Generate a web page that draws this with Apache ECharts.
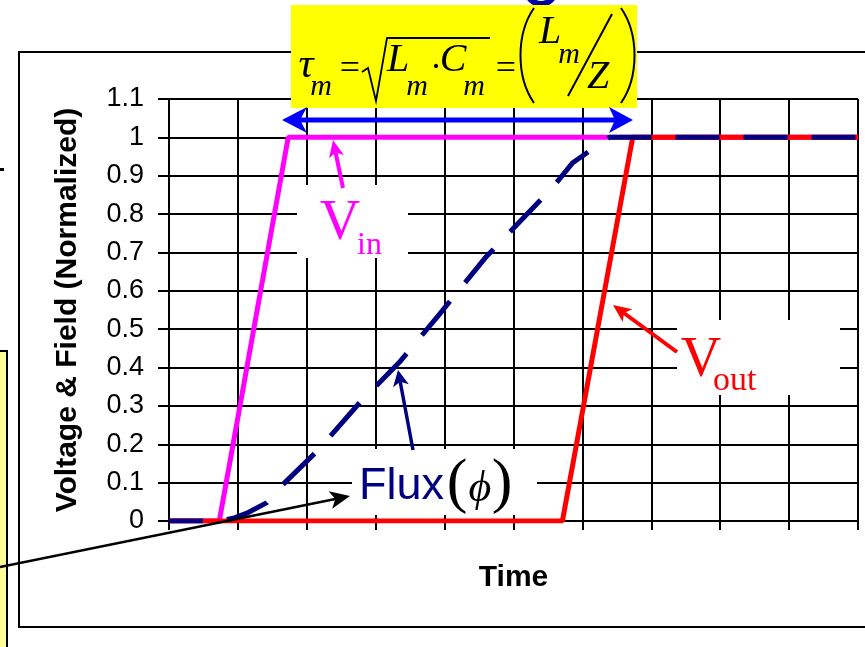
<!DOCTYPE html>
<html>
<head>
<meta charset="utf-8">
<script src="https://cdn.jsdelivr.net/npm/echarts@6/dist/echarts.min.js"></script>
<style>
  html, body { margin: 0; padding: 0; background: #fff; }
  #chart { width: 865px; height: 647px; }
</style>
</head>
<body>
<div id="chart"></div>
<script>
// ---- data ----
const timeVin  = [0, 0.73, 1.73, 10];
const vin      = [0, 0, 1, 1];
const timeVout = [0, 5.71, 6.73, 10];
const vout     = [0, 0, 1, 1];
const timeFlux = [0, 0.73, 0.95, 1.15, 1.42, 1.67, 2.16, 2.77, 3.35, 3.93, 4.59, 5.09, 5.56, 5.86, 6.39, 10];
const flux     = [0, 0, 0.008, 0.022, 0.048, 0.098, 0.184, 0.309, 0.415, 0.54, 0.686, 0.78, 0.868, 0.934, 1.0, 1.0];
const yTickLabels = ['0','0.1','0.2','0.3','0.4','0.5','0.6','0.7','0.8','0.9','1','1.1'];

const zip = (xs, ys) => xs.map((x, i) => [x, ys[i]]);

const SERIF = "'Liberation Serif','DejaVu Serif',serif";
const SANS = "'Liberation Sans',Arial,sans-serif";

function arrow(x1, y1, x2, y2, color, w, hl, hw, z) {
  const dx = x2 - x1, dy = y2 - y1, L = Math.hypot(dx, dy);
  const ux = dx / L, uy = dy / L, px = -uy, py = ux;
  const bx = x2 - ux * hl, by = y2 - uy * hl;
  const nx = x2 - ux * hl * 0.75, ny = y2 - uy * hl * 0.75;
  return [
    { type: 'line', z: z, shape: { x1: x1, y1: y1, x2: nx, y2: ny }, style: { stroke: color, lineWidth: w } },
    { type: 'polygon', z: z, shape: { points: [[x2, y2], [bx + px * hw, by + py * hw], [nx, ny], [bx - px * hw, by - py * hw]] }, style: { fill: color } }
  ];
}

function txt(text, x, y, font, color, align, z) {
  return { type: 'text', z: z || 70, style: { text: text, x: x, y: y, font: font, fill: color,
    textAlign: align || 'center', align: align || 'center', textVerticalAlign: 'middle', verticalAlign: 'middle' } };
}

const graphics = [
  // outer chart frame
  { type: 'rect', z: 40, shape: { x: 19, y: 52, width: 900, height: 575 }, style: { fill: 'none', stroke: '#000', lineWidth: 2 } },
  // left yellow note box (cut off)
  { type: 'rect', z: 40, shape: { x: -6, y: 351, width: 13, height: 310 }, style: { fill: '#FFFF99', stroke: '#000', lineWidth: 2 } },
  { type: 'rect', z: 40, shape: { x: 0, y: 168, width: 4, height: 3 }, style: { fill: '#000' } },
  // top cut-off title glyph
  { type: 'circle', z: 40, shape: { cx: 541, cy: -10, r: 14 }, style: { fill: 'none', stroke: '#0000A0', lineWidth: 6 } },

  // white label backgrounds
  { type: 'rect', z: 50, shape: { x: 297, y: 185, width: 111, height: 73 }, style: { fill: '#fff' } },
  { type: 'rect', z: 50, shape: { x: 677, y: 320, width: 163, height: 75 }, style: { fill: '#fff' } },
  { type: 'rect', z: 50, shape: { x: 352, y: 449, width: 185, height: 66 }, style: { fill: '#fff' } },

  // formula box
  { type: 'rect', z: 50, shape: { x: 291, y: 5, width: 346, height: 103 }, style: { fill: '#FFFF00' } },
  txt('τ', 306, 66, 'italic 42px ' + SERIF, '#000', 'center'),
  txt('m', 321, 87, 'italic 30px ' + SERIF, '#000', 'center'),
  txt('=', 350, 70, '36px ' + SERIF, '#000', 'center'),
  { type: 'polyline', z: 70, shape: { points: [[362, 72], [368, 68], [376, 101], [387, 38], [490, 38]] }, style: { stroke: '#000', lineWidth: 1.8, fill: 'none' } },
  txt('L', 398, 60, 'italic 40px ' + SERIF, '#000', 'center'),
  txt('m', 417, 87, 'italic 30px ' + SERIF, '#000', 'center'),
  txt('·', 436, 69, '36px ' + SERIF, '#000', 'center'),
  txt('C', 453, 60, 'italic 40px ' + SERIF, '#000', 'center'),
  txt('m', 474, 87, 'italic 30px ' + SERIF, '#000', 'center'),
  txt('=', 506, 70, '36px ' + SERIF, '#000', 'center'),
  { type: 'bezierCurve', z: 70, shape: { x1: 534, y1: 8, x2: 534, y2: 103, cpx1: 516, cpy1: 34, cpx2: 516, cpy2: 77 }, style: { stroke: '#000', lineWidth: 2, fill: 'none' } },
  { type: 'bezierCurve', z: 70, shape: { x1: 621, y1: 8, x2: 621, y2: 103, cpx1: 639, cpy1: 34, cpx2: 639, cpy2: 77 }, style: { stroke: '#000', lineWidth: 2, fill: 'none' } },
  txt('L', 550, 32, 'italic 40px ' + SERIF, '#000', 'center'),
  txt('m', 569, 55, 'italic 30px ' + SERIF, '#000', 'center'),
  { type: 'line', z: 70, shape: { x1: 612, y1: 14, x2: 568, y2: 96 }, style: { stroke: '#000', lineWidth: 2 } },
  txt('Z', 598, 77, 'italic 40px ' + SERIF, '#000', 'center'),

  // blue double arrow (tau span)
  { type: 'line', z: 60, shape: { x1: 298, y1: 120, x2: 617, y2: 120 }, style: { stroke: '#0000FF', lineWidth: 5 } },
  { type: 'polygon', z: 60, shape: { points: [[282, 120], [307, 107], [300, 120], [307, 133]] }, style: { fill: '#0000FF' } },
  { type: 'polygon', z: 60, shape: { points: [[633, 120], [609, 107], [615, 120], [609, 133]] }, style: { fill: '#0000FF' } },

  // labels
  txt('V', 340, 224, '56px ' + SERIF, '#FF00FF', 'center'),
  txt('in', 357, 246, '32px ' + SERIF, '#FF00FF', 'left'),
  txt('V', 701, 361, '56px ' + SERIF, '#FF0000', 'center'),
  txt('out', 713, 381, '34px ' + SERIF, '#FF0000', 'left'),
  txt('Flux', 359, 487, '45px ' + SANS, '#000080', 'left'),
  txt('(', 457, 485, '62px ' + SERIF, '#000', 'center'),
  txt('ϕ', 480, 489, 'italic 44px ' + SERIF, '#000', 'center'),
  txt(')', 502, 485, '62px ' + SERIF, '#000', 'center')
]
.concat(arrow(343, 188, 333, 140, '#FF00FF', 4, 17, 7.5, 60))
.concat(arrow(677, 352, 613, 305, '#FF0000', 4, 18, 8, 60))
.concat(arrow(413, 450, 398, 370, '#000080', 3.5, 16, 8, 60))
.concat(arrow(0, 567, 350, 496, '#000', 2.5, 20, 9, 60));

const chart = echarts.init(document.getElementById('chart'), null, { renderer: 'canvas' });
chart.setOption({
  animation: false,
  backgroundColor: '#fff',
  textStyle: { fontFamily: SANS },
  grid: { left: 169, right: 7, top: 99, bottom: 126, containLabel: false },
  xAxis: {
    type: 'value', min: 0, max: 10, interval: 1,
    name: 'Time', nameLocation: 'middle', nameGap: 42,
    nameTextStyle: { fontSize: 30, fontWeight: 'bold', color: '#000', fontFamily: SANS },
    axisLine: { show: true, onZero: false, lineStyle: { color: '#000', width: 2 } },
    axisTick: { show: true, inside: false, length: 9, lineStyle: { color: '#000', width: 2 } },
    axisLabel: { show: false },
    splitLine: { show: true, showMinLine: true, showMaxLine: true, lineStyle: { color: '#000', width: 2 } }
  },
  yAxis: {
    type: 'value', min: 0, max: 1.1, interval: 0.1,
    name: 'Voltage & Field (Normalized)', nameLocation: 'middle', nameGap: 86, nameRotate: 90,
    nameTextStyle: { fontSize: 30, fontWeight: 'bold', color: '#000', fontFamily: SANS },
    axisLine: { show: true, lineStyle: { color: '#000', width: 2 } },
    axisTick: { show: true, inside: false, length: 11, lineStyle: { color: '#000', width: 2 } },
    axisLabel: { show: true, margin: 25, fontSize: 27, color: '#000', fontFamily: SANS,
      formatter: v => yTickLabels[Math.round(v * 10)] },
    splitLine: { show: true, showMinLine: true, showMaxLine: true, lineStyle: { color: '#000', width: 2 } }
  },
  series: [
    { name: 'Vin', type: 'line', data: zip(timeVin, vin), symbol: 'none', z: 3,
      lineStyle: { color: '#FF00FF', width: 5 } },
    { name: 'Vout', type: 'line', data: zip(timeVout, vout), symbol: 'none', z: 4,
      lineStyle: { color: '#FF0000', width: 5 } },
    { name: 'Flux', type: 'line', data: zip(timeFlux, flux), symbol: 'none', z: 5,
      lineStyle: { color: '#000080', width: 5, type: [44, 24], dashOffset: 10, cap: 'butt' } }
  ],
  graphic: { elements: graphics }
});
</script>
</body>
</html>
